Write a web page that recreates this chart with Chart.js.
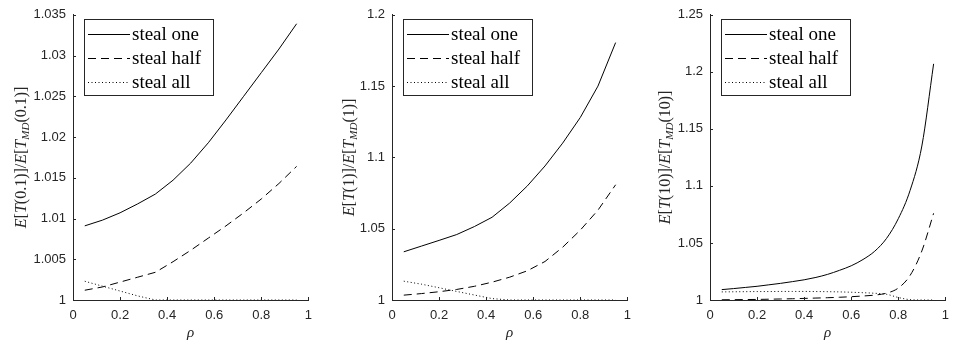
<!DOCTYPE html>
<html>
<head>
<meta charset="utf-8">
<script src="https://cdn.jsdelivr.net/npm/chart.js@4"></script>
<style>
  html, body { margin: 0; padding: 0; background: #fff; overflow: hidden; width: 953px; height: 343px; }
  .panel { position: absolute; top: 0; width: 320px; height: 343px; }
</style>
</head>
<body>
<div class="panel" style="left:0px"><canvas id="c1" width="320" height="343"></canvas></div>
<div class="panel" style="left:319px"><canvas id="c2" width="320" height="343"></canvas></div>
<div class="panel" style="left:637px"><canvas id="c3" width="320" height="343"></canvas></div>
<script>
// x grid (rho)
const rhoCoarse = [0.05, 0.125, 0.2, 0.275, 0.35, 0.425, 0.5, 0.575, 0.65, 0.725, 0.8, 0.875, 0.95];
const rhoFine = [0.05, 0.1, 0.15, 0.2, 0.25, 0.3, 0.35, 0.4, 0.45, 0.5, 0.55, 0.6, 0.65, 0.7, 0.75, 0.8, 0.85, 0.9, 0.95];

const seriesNames = ["steal one", "steal half", "steal all"];

// panel 1: E[T(0.1)]/E[T_MD(0.1)]
const one01 = [1.0091, 1.0098, 1.0107, 1.0118, 1.0130, 1.0147, 1.0168, 1.0193, 1.0221, 1.0250, 1.0279, 1.0308, 1.0339];
const half01 = [1.0012, 1.0016, 1.0022, 1.0028, 1.0034, 1.0047, 1.0061, 1.0076, 1.0091, 1.0107, 1.0124, 1.0143, 1.0164];
const all01 = [1.0023, 1.0017, 1.0011, 1.0005, 1.0000, 1, 1, 1, 1, 1, 1, 1, 1];

// panel 2: E[T(1)]/E[T_MD(1)]
const one1 = [1.0338, 1.0378, 1.0418, 1.0459, 1.0515, 1.0580, 1.0680, 1.0800, 1.0940, 1.1100, 1.1280, 1.1500, 1.1805];
const half1 = [1.0034, 1.0045, 1.0058, 1.0074, 1.0096, 1.0125, 1.0160, 1.0205, 1.0270, 1.0370, 1.0490, 1.0630, 1.0808];
const all1 = [1.0132, 1.0111, 1.0086, 1.0060, 1.0035, 1.0010, 1.0000, 1, 1, 1, 1, 1, 1];

// panel 3: E[T(10)]/E[T_MD(10)]
const one10 = [1.0091, 1.0100, 1.0110, 1.0120, 1.0133, 1.0146, 1.0161, 1.0177, 1.0198, 1.0225, 1.0260, 1.0300, 1.0355, 1.0428, 1.0540, 1.0713, 1.0960, 1.1350, 1.2070];
const half10 = [1.0002, 1.0003, 1.0004, 1.0005, 1.0007, 1.0009, 1.0011, 1.0014, 1.0017, 1.0020, 1.0024, 1.0029, 1.0035, 1.0043, 1.0060, 1.0105, 1.0215, 1.0430, 1.0760];
const all10 = [1.0071, 1.0072, 1.0073, 1.0074, 1.0074, 1.0075, 1.0075, 1.0075, 1.0074, 1.0073, 1.0071, 1.0068, 1.0064, 1.0059, 1.0050, 1.0022, 1.0003, 1.0, 1.0];

// tick labels
const xTicks = [0, 0.2, 0.4, 0.6, 0.8, 1];
const yTicks01 = [1, 1.005, 1.01, 1.015, 1.02, 1.025, 1.03, 1.035];
const yTicks1 = [1, 1.05, 1.1, 1.15, 1.2];
const yTicks10 = [1, 1.05, 1.1, 1.15, 1.2, 1.25];

const AXIS = "#262626";
const dashes = [[], [8, 5], [1, 2.5]];

function points(xs, ys) {
  return xs.map((x, i) => ({ x: x, y: ys[i] }));
}

// inward tick marks, MATLAB style
const innerTicks = {
  id: "innerTicks",
  afterDraw(chart) {
    const ctx = chart.ctx, a = chart.chartArea;
    const sx = chart.scales.x, sy = chart.scales.y;
    ctx.save();
    ctx.strokeStyle = AXIS;
    ctx.lineWidth = 1;
    ctx.beginPath();
    sx.ticks.forEach((t, i) => {
      const px = Math.round(sx.getPixelForTick(i)) + 0.5;
      ctx.moveTo(px, a.bottom);
      ctx.lineTo(px, a.bottom - 3);
    });
    sy.ticks.forEach((t, i) => {
      const py = Math.round(sy.getPixelForTick(i)) + 0.5;
      ctx.moveTo(a.left, py);
      ctx.lineTo(a.left + 3, py);
    });
    ctx.stroke();
    ctx.restore();
  }
};

// legend box in top left of the axes
const boxLegend = {
  id: "boxLegend",
  afterDraw(chart) {
    const ctx = chart.ctx, a = chart.chartArea;
    const bx = a.left + 11, by = 19, bw = 130, bh = 77;
    ctx.save();
    ctx.fillStyle = "#fff";
    ctx.fillRect(bx, by, bw, bh);
    ctx.strokeStyle = AXIS;
    ctx.lineWidth = 1;
    ctx.strokeRect(bx + 0.5, by + 0.5, bw - 1, bh - 1);
    ctx.font = "19px 'Liberation Serif'";
    ctx.textBaseline = "middle";
    chart.data.datasets.forEach((ds, i) => {
      const y = by + 15 + 24 * i;
      ctx.strokeStyle = ds.borderColor;
      ctx.lineWidth = ds.borderWidth;
      ctx.setLineDash(ds.borderDash);
      ctx.beginPath();
      ctx.moveTo(bx + 4, y + 0.5);
      ctx.lineTo(bx + 46, y + 0.5);
      ctx.stroke();
      ctx.setLineDash([]);
      ctx.fillStyle = "#000";
      ctx.fillText(ds.label, bx + 48, y + 1);
    });
    ctx.restore();
  }
};

// rotated y label with subscript MD
const yLabel = {
  id: "yLabel",
  afterDraw(chart) {
    const opts = chart.options.plugins.yLabel;
    const ctx = chart.ctx, a = chart.chartArea;
    const parts = opts.parts;
    const big = 16, small = 11;
    const fontOf = p => (p.i ? "italic " : "") + (p.sub ? small : big) + "px 'Liberation Serif'";
    ctx.save();
    let total = 0;
    parts.forEach(p => { ctx.font = fontOf(p); total += ctx.measureText(p.t).width; });
    ctx.translate(opts.x, (a.top + a.bottom) / 2);
    ctx.rotate(-Math.PI / 2);
    ctx.fillStyle = AXIS;
    ctx.textBaseline = "alphabetic";
    let x = -total / 2;
    parts.forEach(p => {
      ctx.font = fontOf(p);
      ctx.fillText(p.t, x, p.sub ? 8 : 5);
      x += ctx.measureText(p.t).width;
    });
    ctx.restore();
  }
};

function labelParts(arg) {
  return [
    { t: "E", i: true }, { t: "[" }, { t: "T", i: true }, { t: "(" + arg + ")]/" },
    { t: "E", i: true }, { t: "[" }, { t: "T", i: true }, { t: "MD", i: true, sub: true },
    { t: "(" + arg + ")]" }
  ];
}

function makeChart(id, rho, series, yTicks, arg, labelX, smooth) {
  new Chart(document.getElementById(id), {
    type: "line",
    data: {
      datasets: series.map((s, i) => ({
        label: seriesNames[i],
        data: points(rho, s),
        borderColor: "#000",
        borderWidth: 1,
        borderDash: dashes[i],
        pointRadius: 0,
        fill: false,
        tension: 0,
        cubicInterpolationMode: smooth ? "monotone" : "default"
      }))
    },
    options: {
      responsive: false,
      devicePixelRatio: 1,
      animation: false,
      layout: { padding: { top: 7, right: 6, left: 0, bottom: 0 } },
      plugins: {
        legend: { display: false },
        tooltip: { enabled: false },
        yLabel: { x: labelX, parts: labelParts(arg) }
      },
      scales: {
        x: {
          type: "linear",
          min: 0,
          max: 1,
          afterBuildTicks: sc => { sc.ticks = xTicks.map(v => ({ value: v })); },
          afterFit: sc => { sc.height = 43; },
          grid: { display: false, drawTicks: false },
          border: { display: true, color: AXIS, width: 1 },
          ticks: {
            color: AXIS,
            padding: 8,
            maxRotation: 0,
            font: { family: "'Liberation Sans'", size: 13 },
            callback: v => String(v)
          },
          title: {
            display: true,
            text: "ρ",
            color: AXIS,
            padding: { top: 0, bottom: 1 },
            font: { family: "'Liberation Serif'", size: 15, style: "italic" }
          }
        },
        y: {
          type: "linear",
          min: yTicks[0],
          max: yTicks[yTicks.length - 1],
          afterBuildTicks: sc => { sc.ticks = yTicks.map(v => ({ value: v })); },
          afterFit: sc => { sc.width = 73; },
          grid: { display: false, drawTicks: false },
          border: { display: true, color: AXIS, width: 1 },
          ticks: {
            color: AXIS,
            padding: 7,
            font: { family: "'Liberation Sans'", size: 13 },
            callback: v => String(v)
          }
        }
      }
    },
    plugins: [innerTicks, boxLegend, yLabel]
  });
}

makeChart("c1", rhoCoarse, [one01, half01, all01], yTicks01, "0.1", 21, false);
makeChart("c2", rhoCoarse, [one1, half1, all1], yTicks1, "1", 30, false);
makeChart("c3", rhoFine, [one10, half10, all10], yTicks10, "10", 28, true);
</script>
</body>
</html>
